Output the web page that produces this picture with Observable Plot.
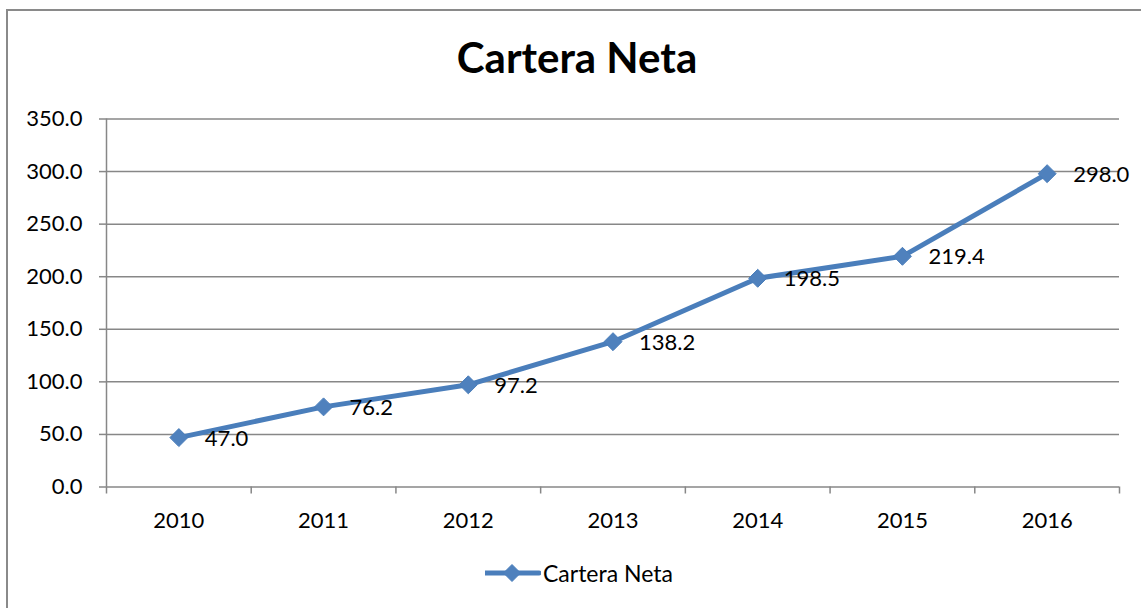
<!DOCTYPE html>
<html>
<head>
<meta charset="utf-8">
<script src="https://cdn.jsdelivr.net/npm/d3@7"></script>
<script src="https://cdn.jsdelivr.net/npm/@observablehq/plot@0.6"></script>
<style>
  html, body { margin: 0; padding: 0; background: #fff; }
  body { width: 1141px; height: 608px; overflow: hidden; position: relative; font-family: Lato, "Open Sans", sans-serif; }
  #frame { position: absolute; left: 6px; top: 9px; width: 1200px; height: 700px; border: 2px solid #8a8a8a; box-sizing: border-box; }
  #chart { position: absolute; left: 0; top: 0; }
  #title { position: absolute; left: 0; width: 1154px; top: 32px; text-align: center; font: bold 42px Lato, sans-serif; color: #000; line-height: 50px; }
  #legend { position: absolute; left: 485px; top: 558px; height: 30px; display: flex; align-items: center; font: 23px Lato, sans-serif; color: #000; }
</style>
</head>
<body>
<div id="frame"></div>
<div id="chart"></div>
<div id="title">Cartera Neta</div>
<div id="legend">
  <svg width="56" height="30" style="display:block">
    <line x1="0" y1="15" x2="54" y2="15" stroke="#4A7EBB" stroke-width="5" stroke-linecap="round"/>
    <path d="M27 6.5 L35.5 15 L27 23.5 L18.5 15 Z" fill="#4F81BD" stroke="#4A7EBB" stroke-width="1"/>
  </svg>
  <span style="margin-left:2px">Cartera Neta</span>
</div>
<script>
const years = [2010, 2011, 2012, 2013, 2014, 2015, 2016];
const values = [47.0, 76.2, 97.2, 138.2, 198.5, 219.4, 298.0];
const yTicks = [0, 50, 100, 150, 200, 250, 300, 350];
const seriesName = "Cartera Neta";

const data = years.map((year, i) => ({year, value: values[i]}));
const bounds = [...years.map(y => y - 0.5), years[years.length - 1] + 0.5];

const blue = "#4A7EBB";
const grid = "#878787";

const chart = Plot.plot({
  width: 1141,
  height: 608,
  marginLeft: 106,
  marginRight: 22,
  marginTop: 118.5,
  marginBottom: 121.5,
  style: {fontFamily: "Lato, sans-serif", fontSize: "22px", color: "#000", background: "transparent", overflow: "visible"},
  x: {type: "linear", domain: [bounds[0], bounds[bounds.length - 1]]},
  y: {domain: [0, 350]},
  marks: [
    Plot.ruleY(yTicks, {y: d => d, stroke: grid, strokeWidth: 1.5, strokeOpacity: 1}),
    Plot.ruleX([bounds[0]], {x: d => d, stroke: grid, strokeWidth: 1.5}),
    Plot.axisY({ticks: yTicks, tickSize: 7, tickPadding: 17, tickFormat: d => d.toFixed(1), stroke: grid, strokeWidth: 1.5, strokeOpacity: 1, label: null, fontSize: 22}),
    Plot.axisX({ticks: bounds, tickSize: 7, tickFormat: () => "", stroke: grid, strokeWidth: 1.5, strokeOpacity: 1, label: null}),
    Plot.axisX({ticks: years, tickSize: 0, tickPadding: 25, tickFormat: d => String(d), label: null, fontSize: 22}),
    Plot.line(data, {x: "year", y: "value", stroke: blue, strokeWidth: 5, strokeLinejoin: "round"}),
    Plot.dot(data, {x: "year", y: "value", symbol: "diamond2", r: 8.1, fill: "#4F81BD", stroke: blue, strokeWidth: 1}),
    Plot.text(data, {x: "year", y: "value", text: d => d.value.toFixed(1), textAnchor: "start", dx: 26, dy: 1, fill: "#000", fontSize: 22})
  ]
});
document.getElementById("chart").appendChild(chart);
</script>
</body>
</html>
